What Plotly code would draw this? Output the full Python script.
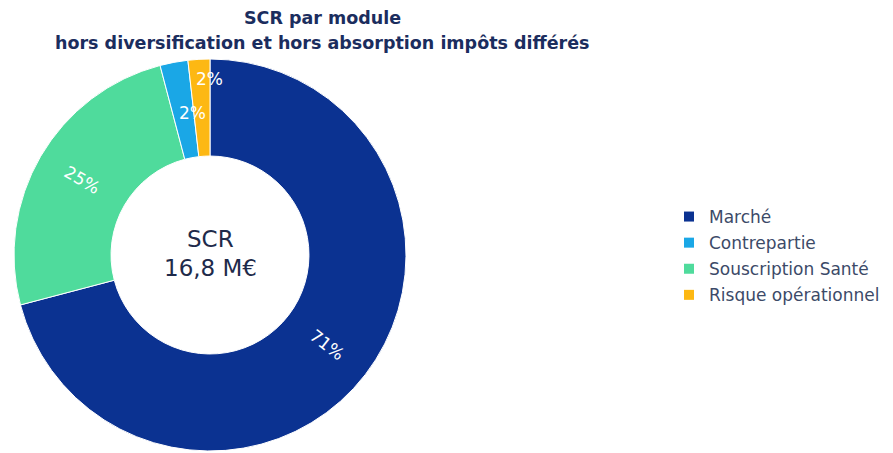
import math
import plotly.graph_objects as go

# ---- data ----
labels = ["Marché", "Contrepartie", "Souscription Santé", "Risque opérationnel"]
values = [70.9, 2.3, 25.0, 1.8]          # share of SCR (%)
colors = ["#0B3291", "#1AA7E6", "#4FDB9C", "#FDB813"]
slice_order = ["Marché", "Souscription Santé", "Contrepartie", "Risque opérationnel"]
small_labels = ["Contrepartie", "Risque opérationnel"]
title_lines = ["SCR par module", "hors diversification et hors absorption impôts différés"]
center_lines = ["SCR", "16,8 M€"]

W, H = 893, 453
FONT = "DejaVu Sans"

idx = [labels.index(s) for s in slice_order]
p_labels = [labels[i] for i in idx]
p_values = [values[i] for i in idx]
p_colors = [colors[i] for i in idx]
total = sum(values)

# pie geometry (pixels)
left, right, top, bottom = 14, 406, 59, 451
dom_x = [left / W, right / W]
dom_y = [(H - bottom) / H, (H - top) / H]

fig = go.Figure()
fig.add_trace(go.Pie(
    labels=p_labels, values=p_values, sort=False, direction="clockwise", rotation=0,
    hole=0.505, marker=dict(colors=p_colors, line=dict(color="white", width=1)),
    textinfo="none", showlegend=False, domain=dict(x=dom_x, y=dom_y),
    hoverinfo="label+percent",
))

# legend entries in legend order
for l, c in zip(labels, colors):
    fig.add_trace(go.Scatter(
        x=[None], y=[None], mode="markers", name=l, legendgroup=l,
        marker=dict(symbol="square", size=10, color=c), showlegend=True,
    ))

annotations = []
# percentage labels on the slices
cx, cy = (left + right) / 2, H - (top + bottom) / 2
cum = 0.0
radii = {"Contrepartie": 144, "Risque opérationnel": 176}
for l, v in zip(p_labels, p_values):
    a = (cum + v / 2) / total * 360
    cum += v
    mid = math.radians(a)
    if l in small_labels:
        r, ang, xs = radii[l], 0, 9
    else:
        r, ang, xs = 148, (a - 90) % 180, 0
        if ang > 90:
            ang -= 180
    annotations.append(dict(
        x=(cx + r * math.sin(mid)) / W, y=(cy + r * math.cos(mid)) / H,
        xref="paper", yref="paper", xanchor="center", yanchor="middle",
        text=f"{v/total:.0%}", showarrow=False, textangle=ang,
        xshift=xs, font=dict(family=FONT, size=17, color="white"),
    ))

# center text
for line, yy in zip(center_lines, [238.5, 267.5]):
    annotations.append(dict(
        x=cx / W, y=1 - yy / H, xref="paper", yref="paper",
        xanchor="center", yanchor="middle",
        text=line, showarrow=False,
        font=dict(family=FONT, size=23, color="#1E2A4A"),
    ))
# title
for line, yy in zip(title_lines, [18, 43]):
    annotations.append(dict(
        x=322 / W, y=1 - yy / H, xref="paper", yref="paper",
        xanchor="center", yanchor="middle",
        text="<b>" + line + "</b>", showarrow=False,
        font=dict(family=FONT, size=17.5, color="#1B2D5E"),
    ))

fig.update_layout(
    width=W, height=H, margin=dict(l=0, r=0, t=0, b=0),
    paper_bgcolor="white", plot_bgcolor="white",
    xaxis=dict(visible=False), yaxis=dict(visible=False),
    annotations=annotations,
    legend=dict(x=669 / W, y=1 - 199 / H, xanchor="left", yanchor="top",
                font=dict(family=FONT, size=17, color="#3C4A68"),
                itemsizing="trace", tracegroupgap=1, itemwidth=30,
                bgcolor="rgba(0,0,0,0)"),
)

fig.write_html("out.html", config={"displayModeBar": False},
               post_script="document.body.style.margin='0';")
